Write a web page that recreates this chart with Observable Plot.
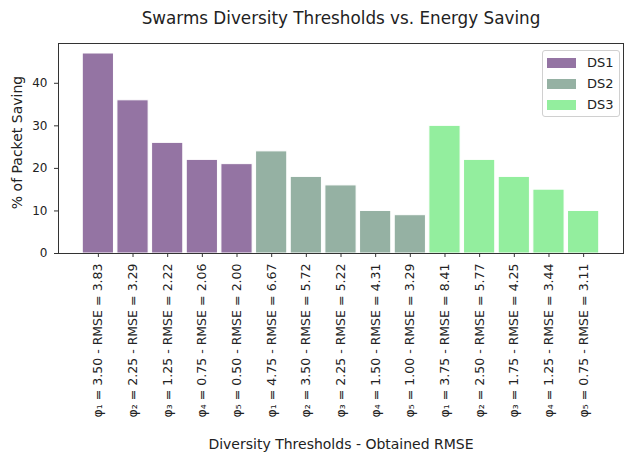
<!DOCTYPE html>
<html>
<head>
<meta charset="utf-8">
<script src="https://cdn.jsdelivr.net/npm/d3@7"></script>
<script src="https://cdn.jsdelivr.net/npm/@observablehq/plot@0.6"></script>
<style>
  html, body { margin: 0; padding: 0; background: #fff; }
  #wrap { position: relative; width: 624px; height: 460px; font-family: "DejaVu Sans", sans-serif; }
  #legend { position: absolute; left: 542px; top: 50px; width: 76px; height: 65px;
            border: 1px solid #d0d0d0; border-radius: 3px; background: rgba(255,255,255,0.85);
            box-sizing: content-box; }
  .row { position: absolute; left: 4px; height: 21px; display: flex; align-items: center; font-size: 13px; color: #222; }
  .sw { width: 29px; height: 10px; margin-right: 11px; }
</style>
</head>
<body>
<div id="wrap"></div>
<script>
const groups = ["DS1", "DS2", "DS3"];
const colors = ["#9474a3", "#95b1a3", "#93ee9e"];
const sub = ["\u2081", "\u2082", "\u2083", "\u2084", "\u2085"];
const phiValues = [
  ["3.50", "2.25", "1.25", "0.75", "0.50"],
  ["4.75", "3.50", "2.25", "1.50", "1.00"],
  ["3.75", "2.50", "1.75", "1.25", "0.75"]
];
const rmseValues = [
  ["3.83", "3.29", "2.22", "2.06", "2.00"],
  ["6.67", "5.72", "5.22", "4.31", "3.29"],
  ["8.41", "5.77", "4.25", "3.44", "3.11"]
];
const savings = [
  [47, 36, 26, 22, 21],
  [24, 18, 16, 10, 9],
  [30, 22, 18, 15, 10]
];
const yTicks = [0, 10, 20, 30, 40];

const sp = "\u2004";
const data = [];
groups.forEach((g, gi) => {
  savings[gi].forEach((v, i) => {
    data.push({
      group: g,
      label: `\u03c6${sub[i]}${sp}=${sp}${phiValues[gi][i]} - RMSE${sp}=${sp}${rmseValues[gi][i]}`,
      value: v
    });
  });
});
const labels = data.map(d => d.label);

const font = "DejaVu Sans, sans-serif";
const chart = Plot.plot({
  width: 624,
  height: 460,
  marginLeft: 58,
  marginRight: 1,
  marginTop: 43,
  marginBottom: 207,
  style: { fontFamily: font, color: "#222", background: "#fff" },
  x: { type: "band", domain: labels, paddingInner: 0.1, paddingOuter: 0.7, align: 0.5, round: false },
  y: { domain: [0, 49.35] },
  color: { domain: groups, range: colors },
  marks: [
    Plot.barY(data, { x: "label", y: "value", fill: "group", stroke: "white", strokeWidth: 1 }),
    Plot.frame({ stroke: "#333", strokeWidth: 1 }),
    Plot.axisY({ ticks: yTicks, tickSize: 4, tickPadding: 7, fontSize: 12, label: null, stroke: "#333" }),
    Plot.axisX({ tickSize: 4, tickPadding: 6, tickRotate: -90, fontSize: 12.5, label: null, stroke: "#333" }),
    Plot.text(["Swarms Diversity Thresholds vs. Energy Saving"], { frameAnchor: "top", dy: -31.5, fontSize: 16.8, fill: "#222" }),
    Plot.text(["Diversity Thresholds - Obtained RMSE"], { frameAnchor: "bottom", dy: 195, fontSize: 14, fill: "#222" }),
    Plot.text(["% of Packet Saving"], { frameAnchor: "left", dx: -41, dy: -6, rotate: -90, textAnchor: "middle", fontSize: 14, fill: "#222" })
  ]
});
const wrap = document.getElementById("wrap");
wrap.appendChild(chart);

const legend = document.createElement("div");
legend.id = "legend";
groups.forEach((g, i) => {
  const row = document.createElement("div");
  row.className = "row";
  row.style.top = (1 + i * 21) + "px";
  const sw = document.createElement("span");
  sw.className = "sw";
  sw.style.background = colors[i];
  const t = document.createElement("span");
  t.textContent = g;
  row.appendChild(sw);
  row.appendChild(t);
  legend.appendChild(row);
});
wrap.appendChild(legend);
</script>
</body>
</html>
